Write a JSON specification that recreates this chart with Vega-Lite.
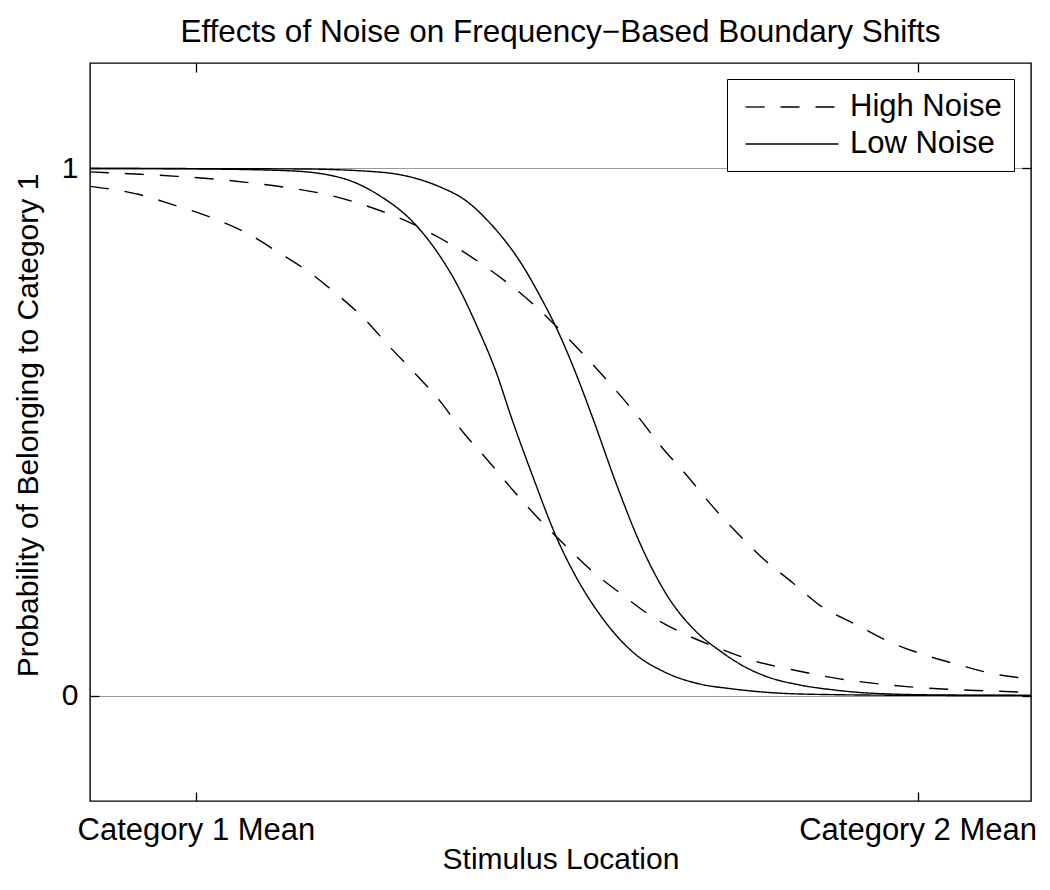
{
  "$schema": "https://vega.github.io/schema/vega-lite/v6.json",
  "autosize": {"type": "none"},
  "padding": {"left": 90, "top": 63, "right": 18, "bottom": 89},
  "width": 941,
  "height": 738,
  "background": "white",
  "config": {
    "view": {"stroke": "black", "strokeWidth": 1.4},
    "font": "Liberation Sans",
    "axis": {"labelFont": "Liberation Sans", "titleFont": "Liberation Sans", "labelColor": "black", "titleColor": "black", "tickColor": "black", "titleFontWeight": "normal"}
  },
  "title": {
    "text": "Effects of Noise on Frequency−Based Boundary Shifts",
    "font": "Liberation Sans",
    "fontSize": 31.5,
    "fontWeight": "normal",
    "color": "black",
    "anchor": "middle",
    "frame": "group",
    "offset": 14
  },
  "data": {
    "values": [
      {"c": "L1", "n": "Low Noise", "x": -1.47, "p": 1.0},
      {"c": "L1", "n": "Low Noise", "x": 0.06, "p": 0.999},
      {"c": "L1", "n": "Low Noise", "x": 1.30, "p": 0.9955},
      {"c": "L1", "n": "Low Noise", "x": 2.04, "p": 0.981},
      {"c": "L1", "n": "Low Noise", "x": 2.55, "p": 0.948},
      {"c": "L1", "n": "Low Noise", "x": 3.01, "p": 0.898},
      {"c": "L1", "n": "Low Noise", "x": 3.34, "p": 0.842},
      {"c": "L1", "n": "Low Noise", "x": 3.61, "p": 0.782},
      {"c": "L1", "n": "Low Noise", "x": 3.89, "p": 0.702},
      {"c": "L1", "n": "Low Noise", "x": 4.17, "p": 0.610},
      {"c": "L1", "n": "Low Noise", "x": 4.36, "p": 0.532},
      {"c": "L1", "n": "Low Noise", "x": 4.67, "p": 0.415},
      {"c": "L1", "n": "Low Noise", "x": 5.00, "p": 0.299},
      {"c": "L1", "n": "Low Noise", "x": 5.28, "p": 0.222},
      {"c": "L1", "n": "Low Noise", "x": 5.60, "p": 0.153},
      {"c": "L1", "n": "Low Noise", "x": 6.05, "p": 0.083},
      {"c": "L1", "n": "Low Noise", "x": 6.52, "p": 0.043},
      {"c": "L1", "n": "Low Noise", "x": 6.98, "p": 0.022},
      {"c": "L1", "n": "Low Noise", "x": 7.44, "p": 0.0126},
      {"c": "L1", "n": "Low Noise", "x": 8.37, "p": 0.003},
      {"c": "L1", "n": "Low Noise", "x": 9.75, "p": 0.0006},
      {"c": "L1", "n": "Low Noise", "x": 11.57, "p": 0.0},
      {"c": "L2", "n": "Low Noise", "x": -1.47, "p": 1.0},
      {"c": "L2", "n": "Low Noise", "x": 1.44, "p": 0.999},
      {"c": "L2", "n": "Low Noise", "x": 2.55, "p": 0.993},
      {"c": "L2", "n": "Low Noise", "x": 3.10, "p": 0.979},
      {"c": "L2", "n": "Low Noise", "x": 3.38, "p": 0.965},
      {"c": "L2", "n": "Low Noise", "x": 3.75, "p": 0.938},
      {"c": "L2", "n": "Low Noise", "x": 4.07, "p": 0.897},
      {"c": "L2", "n": "Low Noise", "x": 4.53, "p": 0.815},
      {"c": "L2", "n": "Low Noise", "x": 4.76, "p": 0.760},
      {"c": "L2", "n": "Low Noise", "x": 5.00, "p": 0.696},
      {"c": "L2", "n": "Low Noise", "x": 5.28, "p": 0.606},
      {"c": "L2", "n": "Low Noise", "x": 5.50, "p": 0.526},
      {"c": "L2", "n": "Low Noise", "x": 5.83, "p": 0.400},
      {"c": "L2", "n": "Low Noise", "x": 6.15, "p": 0.290},
      {"c": "L2", "n": "Low Noise", "x": 6.52, "p": 0.192},
      {"c": "L2", "n": "Low Noise", "x": 6.98, "p": 0.115},
      {"c": "L2", "n": "Low Noise", "x": 7.26, "p": 0.085},
      {"c": "L2", "n": "Low Noise", "x": 7.44, "p": 0.068},
      {"c": "L2", "n": "Low Noise", "x": 7.67, "p": 0.050},
      {"c": "L2", "n": "Low Noise", "x": 7.91, "p": 0.036},
      {"c": "L2", "n": "Low Noise", "x": 8.37, "p": 0.020},
      {"c": "L2", "n": "Low Noise", "x": 8.82, "p": 0.011},
      {"c": "L2", "n": "Low Noise", "x": 9.29, "p": 0.005},
      {"c": "L2", "n": "Low Noise", "x": 10.21, "p": 0.0013},
      {"c": "L2", "n": "Low Noise", "x": 11.57, "p": 0.0004},
      {"c": "H1", "n": "High Noise", "x": -1.47, "p": 0.966},
      {"c": "H1", "n": "High Noise", "x": -0.80, "p": 0.951},
      {"c": "H1", "n": "High Noise", "x": -0.29, "p": 0.930},
      {"c": "H1", "n": "High Noise", "x": 0.19, "p": 0.908},
      {"c": "H1", "n": "High Noise", "x": 0.71, "p": 0.877},
      {"c": "H1", "n": "High Noise", "x": 1.14, "p": 0.841},
      {"c": "H1", "n": "High Noise", "x": 1.58, "p": 0.802},
      {"c": "H1", "n": "High Noise", "x": 1.93, "p": 0.764},
      {"c": "H1", "n": "High Noise", "x": 2.31, "p": 0.718},
      {"c": "H1", "n": "High Noise", "x": 2.69, "p": 0.661},
      {"c": "H1", "n": "High Noise", "x": 3.03, "p": 0.612},
      {"c": "H1", "n": "High Noise", "x": 3.38, "p": 0.559},
      {"c": "H1", "n": "High Noise", "x": 3.70, "p": 0.500},
      {"c": "H1", "n": "High Noise", "x": 4.04, "p": 0.447},
      {"c": "H1", "n": "High Noise", "x": 4.39, "p": 0.390},
      {"c": "H1", "n": "High Noise", "x": 4.74, "p": 0.337},
      {"c": "H1", "n": "High Noise", "x": 5.08, "p": 0.290},
      {"c": "H1", "n": "High Noise", "x": 5.50, "p": 0.235},
      {"c": "H1", "n": "High Noise", "x": 5.91, "p": 0.191},
      {"c": "H1", "n": "High Noise", "x": 6.33, "p": 0.149},
      {"c": "H1", "n": "High Noise", "x": 6.80, "p": 0.115},
      {"c": "H1", "n": "High Noise", "x": 7.30, "p": 0.087},
      {"c": "H1", "n": "High Noise", "x": 7.78, "p": 0.064},
      {"c": "H1", "n": "High Noise", "x": 8.27, "p": 0.049},
      {"c": "H1", "n": "High Noise", "x": 8.82, "p": 0.034},
      {"c": "H1", "n": "High Noise", "x": 9.34, "p": 0.024},
      {"c": "H1", "n": "High Noise", "x": 9.85, "p": 0.017},
      {"c": "H1", "n": "High Noise", "x": 10.41, "p": 0.012},
      {"c": "H1", "n": "High Noise", "x": 10.96, "p": 0.009},
      {"c": "H1", "n": "High Noise", "x": 11.57, "p": 0.006},
      {"c": "H2", "n": "High Noise", "x": -1.47, "p": 0.9935},
      {"c": "H2", "n": "High Noise", "x": -0.78, "p": 0.989},
      {"c": "H2", "n": "High Noise", "x": -0.26, "p": 0.985},
      {"c": "H2", "n": "High Noise", "x": 0.24, "p": 0.980},
      {"c": "H2", "n": "High Noise", "x": 0.79, "p": 0.972},
      {"c": "H2", "n": "High Noise", "x": 1.30, "p": 0.963},
      {"c": "H2", "n": "High Noise", "x": 1.86, "p": 0.949},
      {"c": "H2", "n": "High Noise", "x": 2.45, "p": 0.925},
      {"c": "H2", "n": "High Noise", "x": 2.92, "p": 0.900},
      {"c": "H2", "n": "High Noise", "x": 3.38, "p": 0.868},
      {"c": "H2", "n": "High Noise", "x": 3.84, "p": 0.830},
      {"c": "H2", "n": "High Noise", "x": 4.25, "p": 0.790},
      {"c": "H2", "n": "High Noise", "x": 4.67, "p": 0.743},
      {"c": "H2", "n": "High Noise", "x": 5.07, "p": 0.690},
      {"c": "H2", "n": "High Noise", "x": 5.42, "p": 0.640},
      {"c": "H2", "n": "High Noise", "x": 5.78, "p": 0.585},
      {"c": "H2", "n": "High Noise", "x": 6.11, "p": 0.532},
      {"c": "H2", "n": "High Noise", "x": 6.45, "p": 0.472},
      {"c": "H2", "n": "High Noise", "x": 6.80, "p": 0.418},
      {"c": "H2", "n": "High Noise", "x": 7.12, "p": 0.365},
      {"c": "H2", "n": "High Noise", "x": 7.49, "p": 0.310},
      {"c": "H2", "n": "High Noise", "x": 7.85, "p": 0.261},
      {"c": "H2", "n": "High Noise", "x": 8.27, "p": 0.214},
      {"c": "H2", "n": "High Noise", "x": 8.68, "p": 0.168},
      {"c": "H2", "n": "High Noise", "x": 9.16, "p": 0.134},
      {"c": "H2", "n": "High Noise", "x": 9.61, "p": 0.102},
      {"c": "H2", "n": "High Noise", "x": 10.10, "p": 0.077},
      {"c": "H2", "n": "High Noise", "x": 10.58, "p": 0.058},
      {"c": "H2", "n": "High Noise", "x": 11.14, "p": 0.039},
      {"c": "H2", "n": "High Noise", "x": 11.57, "p": 0.032}
    ]
  },
  "layer": [
    {
      "mark": {"type": "line", "color": "black", "strokeWidth": 1.4, "interpolate": "monotone", "clip": true},
      "encoding": {
        "x": {
          "field": "x", "type": "quantitative",
          "scale": {"domain": [-1.468, 11.572], "nice": false, "zero": false},
          "axis": {
            "orient": "bottom", "values": [0, 10], "domain": false, "grid": false,
            "tickSize": -9, "tickWidth": 1.3,
            "labelExpr": "datum.value == 0 ? 'Category 1 Mean' : 'Category 2 Mean'",
            "labelFontSize": 31, "labelBaseline": "alphabetic", "labelPadding": 47,
            "labelLimit": 0, "labelFlush": false, "labelOverlap": false,
            "title": "Stimulus Location", "titleFontSize": 30,
            "titleBaseline": "alphabetic", "titleY": 67
          }
        },
        "y": {
          "field": "p", "type": "quantitative",
          "scale": {"domain": [-0.2, 1.2], "nice": false, "zero": false},
          "axis": {
            "orient": "left", "values": [0, 1], "domain": false,
            "grid": true, "gridDash": [1, 1], "gridColor": "#333333", "gridWidth": 1,
            "tickSize": -9, "tickWidth": 1.3,
            "labelFontSize": 30, "labelPadding": 21, "format": "d",
            "title": "Probability of Belonging to Category 1", "titleFontSize": 30,
            "titleAngle": -90, "titleBaseline": "alphabetic", "titleX": -53, "titleY": 362
          }
        },
        "detail": {"field": "c"},
        "strokeDash": {
          "field": "n", "type": "nominal",
          "scale": {"domain": ["High Noise", "Low Noise"], "range": [[19, 16], [1, 0]]},
          "legend": {
            "title": null, "orient": "none", "legendX": 637, "legendY": 16,
            "padding": 12, "strokeColor": "black", "fillColor": "white",
            "symbolType": "M-3.1,0H3.1", "symbolSize": 900, "symbolStrokeWidth": 1.3,
            "symbolStrokeColor": "black", "symbolFillColor": "transparent",
            "symbolOffset": 37, "labelOffset": 42,
            "labelFontSize": 31, "labelFont": "Liberation Sans",
            "labelColor": "black", "rowPadding": 6
          }
        }
      }
    },
    {
      "mark": {"type": "point", "opacity": 0},
      "encoding": {
        "x": {
          "field": "x", "type": "quantitative",
          "axis": {"orient": "top", "values": [0, 10], "domain": false, "grid": false, "labels": false, "tickSize": -9, "tickWidth": 1.3, "title": null}
        },
        "y": {
          "field": "p", "type": "quantitative",
          "axis": {"orient": "right", "values": [0, 1], "domain": false, "grid": false, "labels": false, "tickSize": -9, "tickWidth": 1.3, "title": null}
        }
      }
    }
  ],
  "resolve": {"axis": {"x": "independent", "y": "independent"}}
}
